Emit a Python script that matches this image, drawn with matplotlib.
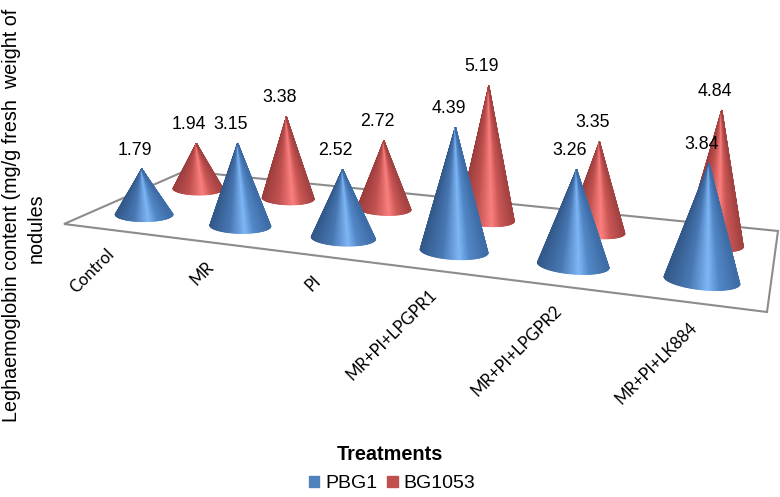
import numpy as np
import matplotlib
matplotlib.use('Agg')
import matplotlib.pyplot as plt
from matplotlib.colors import LinearSegmentedColormap
from matplotlib.patches import Patch

plt.rcParams['font.family'] = ['Liberation Sans', 'DejaVu Sans']

categories = ['Control', 'MR', 'PI', 'MR+PI+LPGPR1', 'MR+PI+LPGPR2', 'MR+PI+LK884']
pbg1 = [1.79, 3.15, 2.52, 4.39, 3.26, 3.84]
bg1053 = [1.94, 3.38, 2.72, 5.19, 3.35, 4.84]

W, H = 780, 497
# floor corners in picture pixels: front-left, front-right, back-right, back-left
floor = np.array([[64, 224], [767, 312], [778, 231], [185, 171]], float)

blue_cmap = LinearSegmentedColormap.from_list('blue_cone', [
    (0, '#33598a'), (0.32, '#4878b4'), (0.58, '#7fb6f6'), (0.74, '#5287c6'), (1, '#3d6ca6')])
red_cmap = LinearSegmentedColormap.from_list('red_cone', [
    (0, '#9c3e3e'), (0.32, '#c25250'), (0.6, '#fb8080'), (0.76, '#cc5856'), (1, '#a34242')])


def make_homography(dst):
    src = [(0, 0), (1, 0), (1, 1), (0, 1)]
    A, b = [], []
    for (u, v), (x, y) in zip(src, dst):
        A.append([u, v, 1, 0, 0, 0, -u * x, -v * x])
        A.append([0, 0, 0, u, v, 1, -u * y, -v * y])
        b += [x, y]
    return np.append(np.linalg.solve(np.array(A), np.array(b)), 1).reshape(3, 3)


M = make_homography(floor)


def project(u, v):
    p = M @ np.array([u, v, 1.0])
    return p[0] / p[2], p[1] / p[2]


def draw_cone(ax, cx, cy, value, hw, cmap):
    h = value * (0.078 * cy + 8.6)
    tip = (cx + h * (cx - 400) * 0.0002, cy - h)
    ry = hw * 0.25
    tilt = (cx - 150) * 0.00018
    ang = np.linspace(np.pi, 0, 81)
    xs = cx + hw * np.cos(ang)
    ys = cy + ry * np.sin(ang) + (xs - cx) * tilt
    X = np.vstack([np.full_like(xs, tip[0]), xs])
    Y = np.vstack([np.full_like(ys, tip[1]), ys])
    t = (xs - cx) / (2 * hw) + 0.5
    C = np.vstack([t, t])
    ax.pcolormesh(X, Y, C, shading='gouraud', cmap=cmap, vmin=0, vmax=1, zorder=3)
    return tip


fig = plt.figure(figsize=(7.8, 4.97), dpi=100)
ax = fig.add_axes([0, 0, 1, 1])
ax.set_xlim(0, W)
ax.set_ylim(H, 0)
ax.axis('off')

ax.fill(floor[:, 0], floor[:, 1], facecolor='white', edgecolor='#8c8c8c', lw=1.5, zorder=1)

n = len(categories)
tips = []
# back row first so the blue cones sit in front
for vals, v, cmap, hw0, hw_slope, cy0 in [(bg1053, 0.72, red_cmap, 25, 0.086, 187),
                                          (pbg1, 0.25, blue_cmap, 29, 0.136, 215)]:
    for i, val in enumerate(vals):
        cx, cy = project((i + 0.5) / n, v)
        hw = hw0 + hw_slope * (cy - cy0)
        tips.append((draw_cone(ax, cx, cy, val, hw, cmap), val))

for tip, val in tips:
    ax.text(tip[0] - 7, tip[1] - 19, '%.2f' % val, ha='center', va='center',
            fontsize=12.8, color='black', zorder=5)

for i, name in enumerate(categories):
    x, y = project((i + 0.5) / n, 0)
    ax.text(x, y + 22, name, rotation=45, rotation_mode='anchor',
            ha='right', va='center', fontsize=12, family='Lato', zorder=5)

ax.text(12, 215, 'Leghaemoglobin content (mg/g fresh  weight of', rotation=90,
        ha='center', va='center', fontsize=14.2)
ax.text(36, 228, 'nodules', rotation=90, ha='center', va='center', fontsize=14.2)
ax.text(390, 454, 'Treatments', ha='center', va='center', fontsize=14.3, fontweight='bold')

handles = [Patch(color='#4f81bd'), Patch(color='#c0504d')]
fig.legend(handles, ['PBG1', 'BG1053'], ncols=2, frameon=False, fontsize=14,
           loc='center', bbox_to_anchor=(392 / W, 1 - 484 / H), handlelength=0.55,
           handleheight=0.55, handletextpad=0.3, columnspacing=0.5)

fig.savefig('out.png', dpi=100)
